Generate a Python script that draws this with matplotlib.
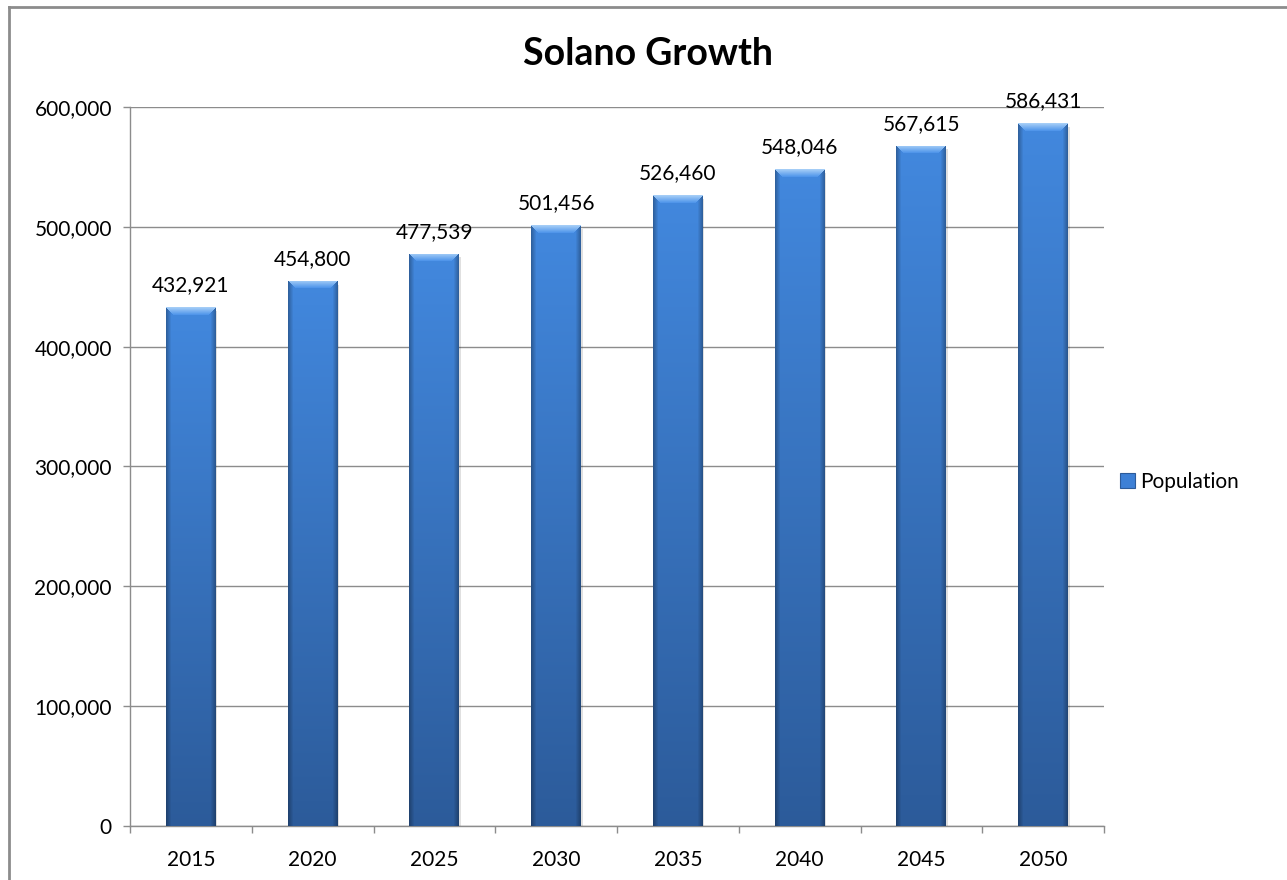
import matplotlib
matplotlib.use("Agg")
import matplotlib.pyplot as plt
import matplotlib.ticker as ticker
from matplotlib.patches import Rectangle
from matplotlib.lines import Line2D
import numpy as np

plt.rcParams['font.family'] = ['Lato', 'DejaVu Sans']

YEARS = ['2015', '2020', '2025', '2030', '2035', '2040', '2045', '2050']
POPULATION = [432921, 454800, 477539, 501456, 526460, 548046, 567615, 586431]
Y_TICKS = [0, 100000, 200000, 300000, 400000, 500000, 600000]

TEXT = '#000000'
GRID = '#8C8C8C'
FS = 15

TOP_C = np.array([0x42, 0x88, 0xDE]) / 255
BOT_C = np.array([0x2C, 0x5B, 0x9A]) / 255
BEVEL_C = np.array([0xA4, 0xCD, 0xF7]) / 255


def bevel_image(w, h, bevel=8, side=5):
    """RGB array for an Excel-style beveled bar, w x h pixels."""
    w, h = max(int(round(w)), 2), max(int(round(h)), 2)
    yy, xx = np.mgrid[0:h, 0:w].astype(float)
    t = (yy / (h - 1))[..., None]
    img = TOP_C * (1 - t) + BOT_C * t
    dl = xx
    dr = (w - 1) - xx
    dside = np.minimum(dl, dr)
    # darker side edges
    side_mask = (dside < side) & (dside <= yy)
    f = np.where(side_mask, 0.72 + 0.28 * (dside / side), 1.0)[..., None]
    img = img * f
    # light top bevel (trapezoid)
    top_mask = (yy < bevel) & (yy < dside + 1)
    s = np.clip(yy / bevel, 0, 1)[..., None]
    light = BEVEL_C * (1 - s) + (TOP_C * 1.05) * s
    img = np.where(top_mask[..., None], light, img)
    return np.clip(img, 0, 1)


fig = plt.figure(figsize=(12.87, 8.8), dpi=100)
ax = fig.add_axes([130 / 1287, 1 - 826 / 880, 974 / 1287, 719 / 880])

x = np.arange(len(YEARS))
BAR_W = 0.41
bars = ax.bar(x, POPULATION, width=BAR_W, color=TOP_C, linewidth=0, zorder=3)

ax.set_xlim(-0.5, len(YEARS) - 0.5)
ax.set_ylim(0, 600000)

# pixel size of each bar for the bevel texture
fig.canvas.draw()
for rect in bars:
    x0, y0 = rect.get_x(), rect.get_y()
    x1, y1 = x0 + rect.get_width(), y0 + rect.get_height()
    p0 = ax.transData.transform((x0, y0))
    p1 = ax.transData.transform((x1, y1))
    img = bevel_image(p1[0] - p0[0], p1[1] - p0[1])
    # soft shadow on the right
    ax.add_patch(Rectangle((x1, y0), 0.012, y1 - y0 - 3000, facecolor='#000000',
                           alpha=0.12, linewidth=0, zorder=2))
    im = ax.imshow(img, extent=(x0, x1, y0, y1), aspect='auto',
                   interpolation='bilinear', zorder=4)
    im.set_clip_path(rect)
    ax.annotate(f'{rect.get_height():,.0f}', (rect.get_x() + rect.get_width() / 2, y1),
                xytext=(0, 12), textcoords='offset pixels', ha='center', va='bottom',
                fontsize=FS, color=TEXT, zorder=5)

ax.set_aspect('auto')
ax.set_xlim(-0.5, len(YEARS) - 0.5)
ax.set_ylim(0, 600000)

ax.set_yticks(Y_TICKS)
ax.yaxis.set_major_formatter(ticker.FuncFormatter(lambda v, _: f'{v:,.0f}'))
ax.grid(axis='y', color=GRID, linewidth=1.0, zorder=0)
ax.set_axisbelow(True)

# category labels between boundary tick marks
ax.set_xticks(x)
ax.set_xticklabels(YEARS)
ax.set_xticks(np.arange(len(YEARS) + 1) - 0.5, minor=True)
ax.tick_params(axis='x', which='major', length=0, pad=17, labelsize=FS, colors=TEXT)
ax.tick_params(axis='x', which='minor', length=5, width=1, color=GRID, direction='out')
ax.tick_params(axis='y', length=5, width=1, color=GRID, pad=8, labelsize=FS, labelcolor=TEXT)

for side in ['top', 'right']:
    ax.spines[side].set_visible(False)
for side in ['left', 'bottom']:
    ax.spines[side].set_color(GRID)
    ax.spines[side].set_linewidth(1.0)

fig.text(648 / 1287, 1 - 54 / 880, 'Solano Growth', ha='center', va='center',
         fontsize=27, fontweight='bold', color=TEXT)

handle = Rectangle((0, 0), 1, 1, facecolor='#3D80D6', edgecolor='#2C5B9A', linewidth=0.8)
fig.legend([handle], ['Population'], loc='center left',
           bbox_to_anchor=(1110 / 1287, 1 - 482 / 880), frameon=False,
           handlelength=0.7, handleheight=0.7, handletextpad=0.25,
           fontsize=FS, borderpad=0)

# outer chart border
fig.add_artist(Line2D([8.5 / 1287, 8.5 / 1287], [0, 1 - 7.5 / 880],
                      transform=fig.transFigure, color='#8C8C8C', linewidth=2))
fig.add_artist(Line2D([8.5 / 1287, 1], [1 - 7.5 / 880, 1 - 7.5 / 880],
                      transform=fig.transFigure, color='#8C8C8C', linewidth=2))

fig.savefig('out.png', dpi=100, facecolor='white')
